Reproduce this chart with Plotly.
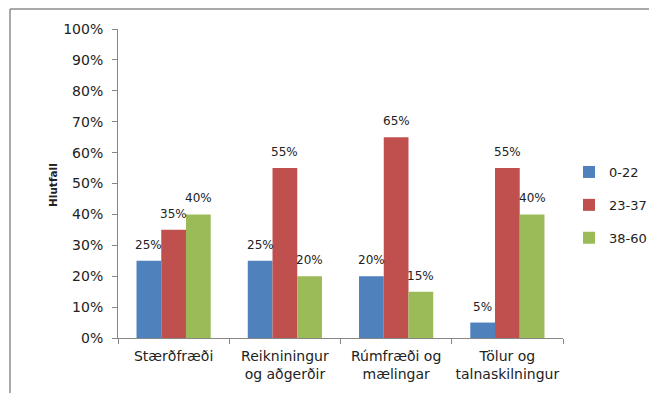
import plotly.graph_objects as go

# data
categories = ["Stærðfræði", "Reikniningur<br>og aðgerðir", "Rúmfræði og<br>mælingar", "Tölur og<br>talnaskilningur"]
series_names = ["0-22", "23-37", "38-60"]
values_0_22 = [0.25, 0.25, 0.20, 0.05]
values_23_37 = [0.35, 0.55, 0.65, 0.55]
values_38_60 = [0.40, 0.20, 0.15, 0.40]
colors = ["#4F81BD", "#C0504D", "#9BBB59"]

font_name = "DejaVu Sans"
axis_gray = "#868686"
bar_gap = 0.333

# page has an 8px body margin, so work in page pixels and shift by it
OFF = 8
W, H = 657 - 2 * OFF, 401 - 2 * OFF
L, R, T, B = 118 - OFF, 563 - OFF, 29 - OFF, 338 - OFF

def px_x(x):
    return (x - OFF - L) / (R - L)

def px_y(y):
    return (B - (y - OFF)) / (B - T)

bar_px = (R - L) / len(categories) * (1 - bar_gap) / len(series_names)

fig = go.Figure()
all_vals = [values_0_22, values_23_37, values_38_60]
for i, (name, vals, col) in enumerate(zip(series_names, all_vals, colors)):
    fig.add_trace(go.Bar(
        x=categories, y=vals, name=name, marker_color=col,
        marker_line_width=0, legendgroup=name,
    ))
    # data labels above each bar
    for cat, v in zip(categories, vals):
        fig.add_annotation(x=cat, y=v, text=f"{round(v * 100)}%", showarrow=False,
                           xshift=(i - 1) * bar_px, yshift=7, yanchor="bottom",
                           font=dict(size=12, color="#222"))

fig.update_layout(
    width=W, height=H,
    margin=dict(l=L, r=W - R, t=T, b=H - B, autoexpand=False),
    paper_bgcolor="white", plot_bgcolor="white",
    barmode="group", bargap=bar_gap, bargroupgap=0,
    font=dict(family=font_name, size=14, color="#222"),
    showlegend=True,
    legend=dict(x=px_x(569), y=px_y(157), xanchor="left", yanchor="top",
                font=dict(size=13), tracegroupgap=13, itemwidth=30,
                bgcolor="rgba(0,0,0,0)"),
    xaxis=dict(showline=True, linecolor=axis_gray, linewidth=1,
               ticks="outside", ticklen=5, tickcolor=axis_gray,
               tickson="boundaries", showgrid=False, ticklabelstandoff=5,
               tickangle=0, automargin=False, tickfont=dict(size=14)),
    yaxis=dict(range=[0, 1], dtick=0.1, tickformat=".0%",
               showline=True, linecolor=axis_gray, linewidth=1,
               ticks="outside", ticklen=5, tickcolor=axis_gray, ticklabelstandoff=6,
               showgrid=False, zeroline=False, automargin=False,
               tickfont=dict(size=14)),
)

# y axis title
fig.add_annotation(text="<b>Hlutfall</b>", textangle=-90, xref="paper", yref="paper",
                   x=px_x(45), y=px_y(185), showarrow=False, font=dict(size=10.5))

# chart frame (top and left edges)
fig.add_shape(type="line", xref="paper", yref="paper",
              x0=px_x(10), x1=px_x(657), y0=px_y(9), y1=px_y(9),
              line=dict(color="#8c8c8c", width=1.5))
fig.add_shape(type="line", xref="paper", yref="paper",
              x0=px_x(10), x1=px_x(10), y0=px_y(9), y1=px_y(401),
              line=dict(color="#8c8c8c", width=1.5))

fig.write_html("out.html")
